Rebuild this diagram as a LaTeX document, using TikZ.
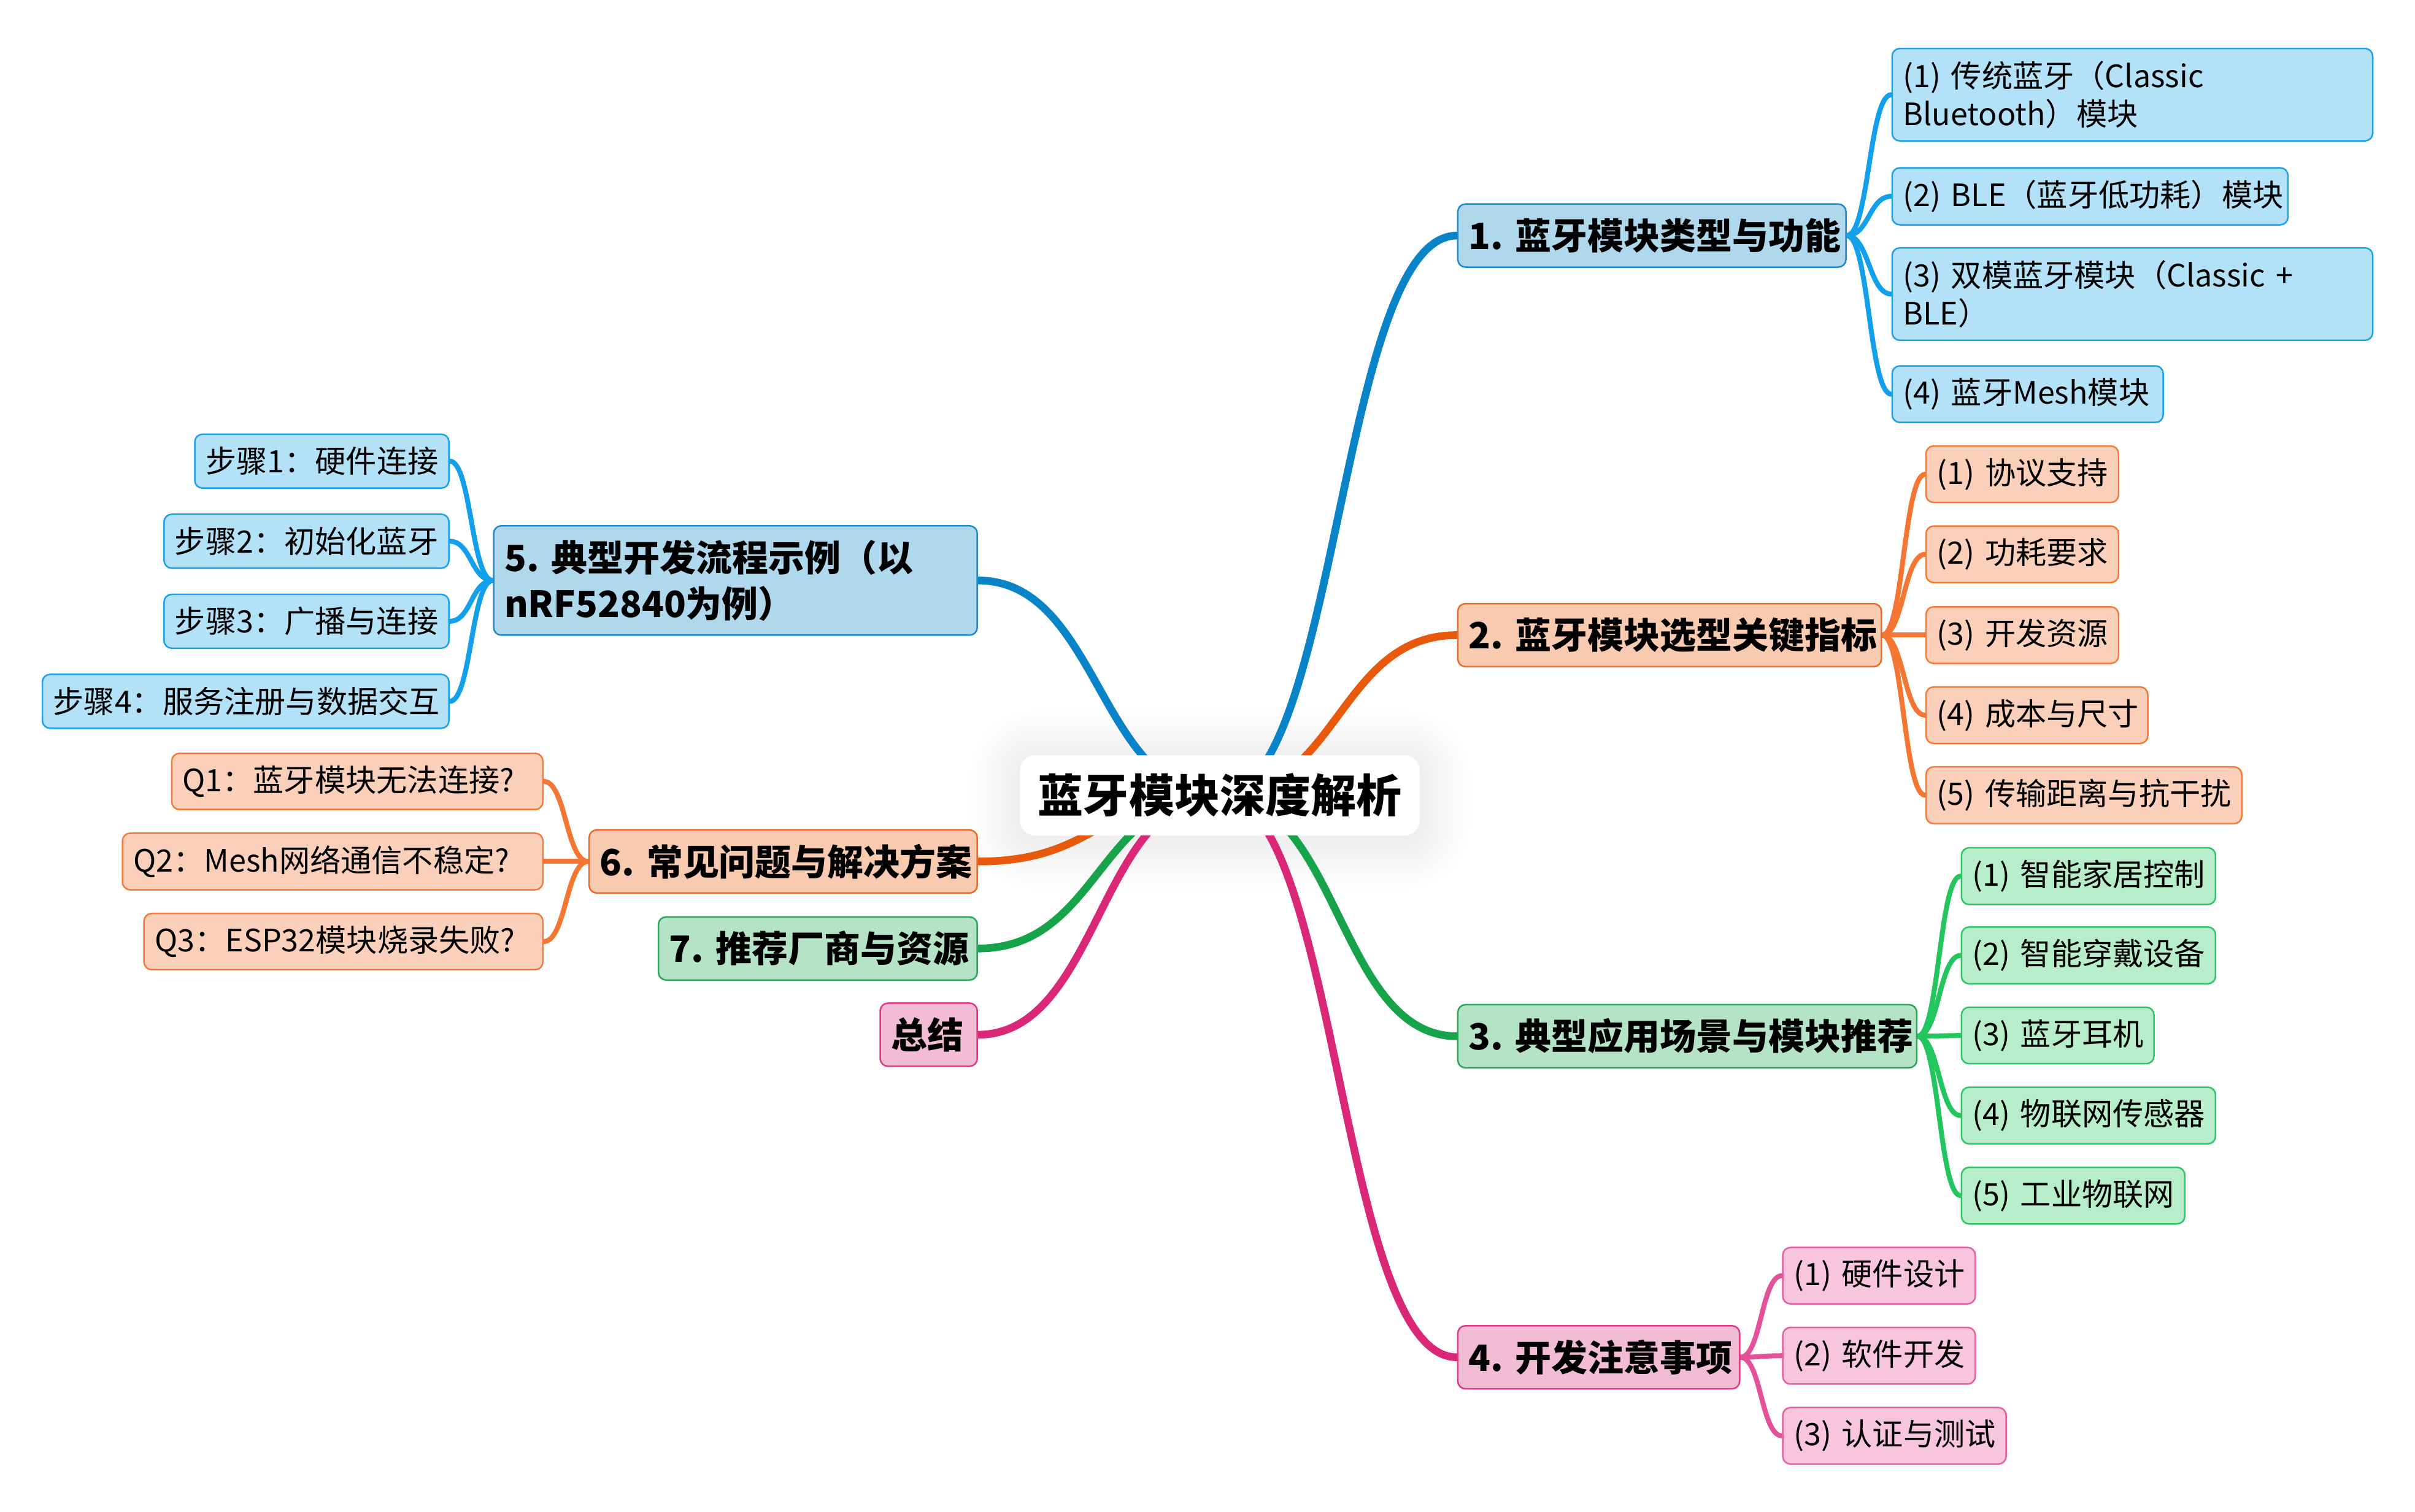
\documentclass[tikz,border=0pt]{standalone}
\usepackage{fontspec}
\setmainfont{Noto Sans CJK SC}
\usetikzlibrary{calc}
\pgfdeclarelayer{backl}
\pgfdeclarelayer{shadowl}
\pgfdeclarelayer{edgel}
\pgfsetlayers{backl,shadowl,edgel,main}
% blue
\definecolor{bE}{HTML}{0A84C8}
\definecolor{bF}{HTML}{B0D8EC}
\definecolor{bD}{HTML}{1E8AD0}
\definecolor{bcE}{HTML}{12A0EC}
\definecolor{bcF}{HTML}{B3E2F8}
\definecolor{bcD}{HTML}{1BA1EC}
% orange
\definecolor{oE}{HTML}{E8590C}
\definecolor{oF}{HTML}{F8CBB1}
\definecolor{oD}{HTML}{EC6A28}
\definecolor{ocE}{HTML}{F57632}
\definecolor{ocF}{HTML}{FBD0BA}
\definecolor{ocD}{HTML}{F47A38}
% green
\definecolor{gE}{HTML}{17A34A}
\definecolor{gF}{HTML}{B4E3C6}
\definecolor{gD}{HTML}{2BA55A}
\definecolor{gcE}{HTML}{22C55E}
\definecolor{gcF}{HTML}{B7EDC9}
\definecolor{gcD}{HTML}{2BC665}
% pink
\definecolor{pE}{HTML}{DB2777}
\definecolor{pF}{HTML}{F2BCD5}
\definecolor{pD}{HTML}{DE3A88}
\definecolor{pcE}{HTML}{E4509A}
\definecolor{pcF}{HTML}{F7C6DC}
\definecolor{pcD}{HTML}{E85FA3}
\tikzset{
  basebox/.style={rounded corners=5pt, line width=1pt, align=left, inner xsep=7pt, inner ysep=8pt, text=black},
  mainn/.style={basebox, font=\bfseries\fontsize{23.5}{30}\selectfont, minimum height=41pt},
  childn/.style={basebox, font=\fontsize{20}{25}\selectfont, minimum height=35pt},
  bmain/.style={mainn, fill=bF, draw=bD},
  omain/.style={mainn, fill=oF, draw=oD},
  gmain/.style={mainn, fill=gF, draw=gD},
  pmain/.style={mainn, fill=pF, draw=pD},
  bchild/.style={childn, fill=bcF, draw=bcD},
  ochild/.style={childn, fill=ocF, draw=ocD},
  gchild/.style={childn, fill=gcF, draw=gcD},
  pchild/.style={childn, fill=pcF, draw=pcD},
  rootn/.style={fill=white, rounded corners=10pt, minimum width=259pt, minimum height=52pt, inner sep=0pt, font=\bfseries\fontsize{29.5}{36}\selectfont, text=black},
  link/.style={line cap=round, to path={.. controls ($(\tikztostart)!0.5!(\tikztostart-|\tikztotarget)$) and ($(\tikztotarget)!0.5!(\tikztotarget-|\tikztostart)$) .. (\tikztotarget)}},
  mainlink/.style={link, line width=5pt},
  sublink/.style={link, line width=3.2pt},
}
\begin{document}
\begin{tikzpicture}[x=1pt,y=-1pt]
\useasboundingbox (0,0) rectangle (1568,981.6);
\begin{pgfonlayer}{backl}
\fill[white] (0,0) rectangle (1568,981.6);
\end{pgfonlayer}

% root
\node[rootn] (root) at (792,516.5) {蓝牙模块深度解析};

% main branches right
\node[bmain, anchor=west, text width=238pt] (n1) at (946,153) {1.~蓝牙模块类型与功能};
\node[omain, anchor=west, text width=261pt] (n2) at (946,412.5) {2.~蓝牙模块选型关键指标};
\node[gmain, anchor=west, text width=284pt] (n3) at (946,673) {3.~典型应用场景与模块推荐};
\node[pmain, anchor=west, text width=169pt] (n4) at (946,881.5) {4.~开发注意事项};

% main branches left
\node[bmain, anchor=east, text width=300pt, minimum height=71pt] (n5) at (635,377) {5.~典型开发流程示例（以\\nRF52840为例）};
\node[omain, anchor=east, text width=238pt] (n6) at (635,559.5) {6.~常见问题与解决方案};
\node[gmain, anchor=east, text width=193pt] (n7) at (635,616) {7.~推荐厂商与资源};
\node[pmain, anchor=east, text width=49pt] (n8) at (635,672) {总结};

% children of 1
\node[bchild, anchor=west, text width=298pt] (c11) at (1228,61.5) {(1)~传统蓝牙（Classic\\Bluetooth）模块};
\node[bchild, anchor=west, text width=243pt] (c12) at (1228,127.5) {(2)~BLE（蓝牙低功耗）模块};
\node[bchild, anchor=west, text width=298pt] (c13) at (1228,191) {(3)~双模蓝牙模块（Classic~+\\BLE）};
\node[bchild, anchor=west, text width=162pt] (c14) at (1228,256) {(4)~蓝牙Mesh模块};

% children of 2
\node[ochild, anchor=west, text width=111pt] (c21) at (1250,308) {(1)~协议支持};
\node[ochild, anchor=west, text width=111pt] (c22) at (1250,360) {(2)~功耗要求};
\node[ochild, anchor=west, text width=111pt] (c23) at (1250,412.5) {(3)~开发资源};
\node[ochild, anchor=west, text width=130pt] (c24) at (1250,464.5) {(4)~成本与尺寸};
\node[ochild, anchor=west, text width=191pt] (c25) at (1250,516.5) {(5)~传输距离与抗干扰};

% children of 3
\node[gchild, anchor=west, text width=151pt] (c31) at (1273,569) {(1)~智能家居控制};
\node[gchild, anchor=west, text width=151pt] (c32) at (1273,620.5) {(2)~智能穿戴设备};
\node[gchild, anchor=west, text width=111pt] (c33) at (1273,672.5) {(3)~蓝牙耳机};
\node[gchild, anchor=west, text width=151pt] (c34) at (1273,724.5) {(4)~物联网传感器};
\node[gchild, anchor=west, text width=131pt] (c35) at (1273,776.5) {(5)~工业物联网};

% children of 4
\node[pchild, anchor=west, text width=111pt] (c41) at (1157,828.5) {(1)~硬件设计};
\node[pchild, anchor=west, text width=111pt] (c42) at (1157,880.5) {(2)~软件开发};
\node[pchild, anchor=west, text width=131pt] (c43) at (1157,932.5) {(3)~认证与测试};

% children of 5
\node[bchild, anchor=east, text width=151pt] (c51) at (292,299.5) {步骤1：硬件连接};
\node[bchild, anchor=east, text width=171pt] (c52) at (292,351.5) {步骤2：初始化蓝牙};
\node[bchild, anchor=east, text width=171pt] (c53) at (292,403.5) {步骤3：广播与连接};
\node[bchild, anchor=east, text width=250pt] (c54) at (292,455.5) {步骤4：服务注册与数据交互};

% children of 6
\node[ochild, anchor=east, text width=227pt] (c61) at (353,507.5) {Q1：蓝牙模块无法连接?};
\node[ochild, anchor=east, text width=259pt] (c62) at (353,559.5) {Q2：Mesh网络通信不稳定?};
\node[ochild, anchor=east, text width=245pt] (c63) at (353,611.5) {Q3：ESP32模块烧录失败?};

% soft glow round the root
\begin{pgfonlayer}{shadowl}
\foreach \i in {1,...,16} {
  \pgfmathsetmacro\dd{2*\i}
  \pgfmathsetmacro\rr{10+2*\i}
  \fill[black, opacity=0.0055, rounded corners=\rr pt]
    ([xshift=-\dd pt, yshift=-\dd pt-3pt]root.south west) rectangle ([xshift=\dd pt, yshift=\dd pt-3pt]root.north east);
}
\fill[white, rounded corners=10pt] (root.south west) rectangle (root.north east);
\end{pgfonlayer}

\begin{pgfonlayer}{edgel}
\draw[mainlink, bE] (root.center) to (n1.west);
\draw[mainlink, oE] (root.center) to (n2.west);
\draw[mainlink, gE] (root.center) to (n3.west);
\draw[mainlink, pE] (root.center) to (n4.west);
\draw[mainlink, bE] (root.center) to (n5.east);
\draw[mainlink, oE] (root.center) to (n6.east);
\draw[mainlink, gE] (root.center) to (n7.east);
\draw[mainlink, pE] (root.center) to (n8.east);

\foreach \c in {c11,c12,c13,c14} \draw[sublink, bcE] (n1.east) to (\c.west);
\foreach \c in {c21,c22,c23,c24,c25} \draw[sublink, ocE] (n2.east) to (\c.west);
\foreach \c in {c31,c32,c33,c34,c35} \draw[sublink, gcE] (n3.east) to (\c.west);
\foreach \c in {c41,c42,c43} \draw[sublink, pcE] (n4.east) to (\c.west);
\foreach \c in {c51,c52,c53,c54} \draw[sublink, bcE] (n5.west) to (\c.east);
\foreach \c in {c61,c62,c63} \draw[sublink, ocE] (n6.west) to (\c.east);
\end{pgfonlayer}
\end{tikzpicture}
\end{document}
